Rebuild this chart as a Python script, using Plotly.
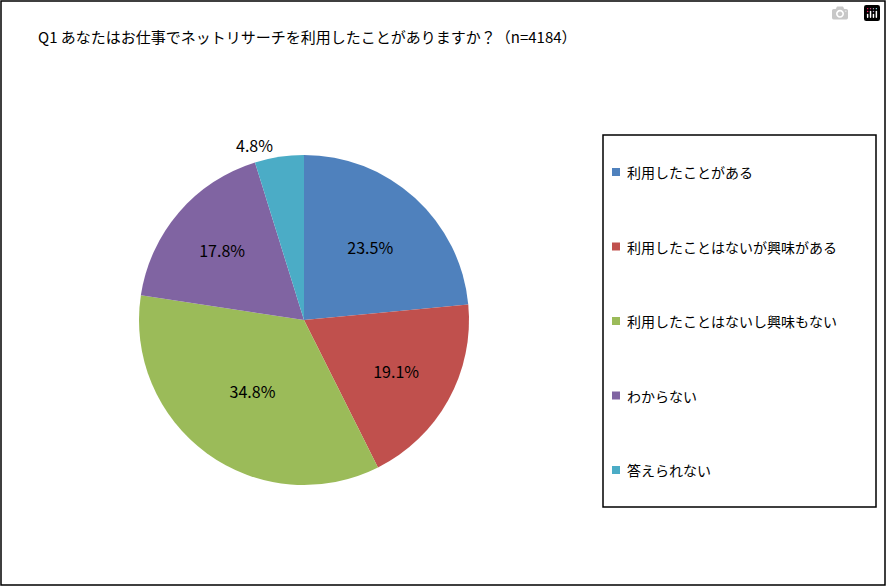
import plotly.graph_objects as go

labels = ["利用したことがある", "利用したことはないが興味がある", "利用したことはないし興味もない", "わからない", "答えられない"]
values = [23.5, 19.1, 34.8, 17.8, 4.8]
colors = ["#4f81bd", "#c0504d", "#9bbb59", "#8064a2", "#4bacc6"]
texts = [f"{v}%" for v in values]

W, H = 886, 586
fig = go.Figure(go.Pie(
    labels=labels, values=values, text=texts, textinfo="text",
    marker=dict(colors=colors, line=dict(color="white", width=0)),
    sort=False, direction="clockwise", rotation=0,
    textposition=["inside"] * 4 + ["outside"],
    insidetextorientation="horizontal",
    textfont=dict(size=16, color="black"),
    outsidetextfont=dict(size=16, color="black"),
    domain=dict(x=[139 / W, 469 / W], y=[1 - 485 / H, 1 - 155 / H]),
    showlegend=False, hoverinfo="label+percent",
))

shapes = [
    dict(type="rect", xref="paper", yref="paper", x0=1 / W, x1=1 - 1 / W, y0=1 / H, y1=1 - 1 / H,
         line=dict(color="black", width=1.5)),
    dict(type="rect", xref="paper", yref="paper", x0=603 / W, x1=876 / W, y0=1 - 507 / H, y1=1 - 135 / H,
         line=dict(color="black", width=1.5)),
]
annotations = [dict(text="Q1 あなたはお仕事でネットリサーチを利用したことがありますか？（n=4184）",
                    xref="paper", yref="paper", x=36 / W, y=1 - 37 / H, xanchor="left", yanchor="middle",
                    showarrow=False, font=dict(size=15, color="black"))]
for i, (lab, c) in enumerate(zip(labels, colors)):
    yc = 172 + i * 74.5
    shapes.append(dict(type="rect", xref="paper", yref="paper", x0=612 / W, x1=620 / W,
                       y0=1 - (yc + 4) / H, y1=1 - (yc - 4) / H, fillcolor=c, line=dict(width=0)))
    annotations.append(dict(text=lab, xref="paper", yref="paper", x=625 / W, y=1 - yc / H,
                            xanchor="left", yanchor="middle", showarrow=False,
                            font=dict(size=14, color="black")))

fig.update_layout(width=W, height=H, margin=dict(l=0, r=0, t=0, b=0),
                  paper_bgcolor="white", shapes=shapes, annotations=annotations,
                  font=dict(family="Noto Sans CJK JP"))
fig.write_html("out.html", post_script="document.body.style.margin='0';document.body.style.overflow='hidden';")
